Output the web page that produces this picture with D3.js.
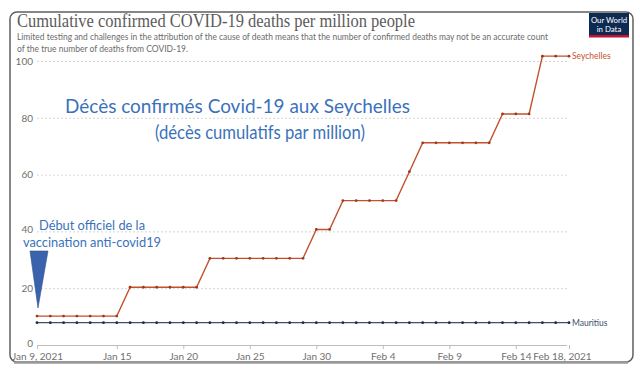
<!DOCTYPE html>
<html>
<head>
<meta charset="utf-8">
<script src="https://cdn.jsdelivr.net/npm/d3@7"></script>
<style>
  body { margin: 0; background: #fff; }
  svg { display: block; }
</style>
</head>
<body>
<svg width="640" height="369"></svg>
<script>
// data (deaths per million, one point per day)
let dates = d3.timeDays(new Date(2021, 0, 9), new Date(2021, 1, 19));
let seychelles = [
  10.17, 10.17, 10.17, 10.17, 10.17, 10.17, 10.17,
  20.34, 20.34, 20.34, 20.34, 20.34, 20.34,
  30.51, 30.51, 30.51, 30.51, 30.51, 30.51, 30.51, 30.51,
  40.68, 40.68,
  50.85, 50.85, 50.85, 50.85, 50.85,
  61.02,
  71.19, 71.19, 71.19, 71.19, 71.19, 71.19,
  81.36, 81.36, 81.36,
  101.7, 101.7, 101.7
];
let mauritius = [
  7.87, 7.87, 7.87, 7.87, 7.87, 7.87, 7.87, 7.87, 7.87, 7.87,
  7.87, 7.87, 7.87, 7.87, 7.87, 7.87, 7.87, 7.87, 7.87, 7.87,
  7.87, 7.87, 7.87, 7.87, 7.87, 7.87, 7.87, 7.87, 7.87, 7.87,
  7.87, 7.87, 7.87, 7.87, 7.87, 7.87, 7.87, 7.87, 7.87, 7.87, 7.87
];
let xTicks = [new Date(2021,0,9), new Date(2021,0,15), new Date(2021,0,20), new Date(2021,0,25),
  new Date(2021,0,30), new Date(2021,1,4), new Date(2021,1,9), new Date(2021,1,14), new Date(2021,1,18)];
let xTickLabels = ['Jan 9, 2021', 'Jan 15', 'Jan 20', 'Jan 25', 'Jan 30', 'Feb 4', 'Feb 9', 'Feb 14', 'Feb 18, 2021'];
let yTicks = [0, 20, 40, 60, 80, 100];

let svg = d3.select('svg');
let sans = 'Lato, "Open Sans", sans-serif';

// screenshot frame
svg.append('rect')
   .attr('x', 10).attr('y', 12).attr('width', 623).attr('height', 350)
   .attr('rx', 7)
   .attr('fill', '#fff').attr('stroke', '#5f5f5f').attr('stroke-width', 1.5);
svg.append('line')
   .attr('x1', 14).attr('x2', 628).attr('y1', 362.5).attr('y2', 362.5)
   .attr('stroke', '#9a9a9a').attr('stroke-width', 2.5);

// header
svg.append('text')
   .attr('x', 17).attr('y', 27)
   .attr('font-family', '"Liberation Serif", "DejaVu Serif", serif')
   .attr('font-size', 18.5).attr('fill', '#5b5b5b')
   .attr('textLength', 398).attr('lengthAdjust', 'spacingAndGlyphs')
   .text('Cumulative confirmed COVID-19 deaths per million people');
svg.append('text')
   .attr('x', 17).attr('y', 40)
   .attr('font-family', sans).attr('font-size', 9.3).attr('fill', '#6b6b6b')
   .attr('textLength', 531).attr('lengthAdjust', 'spacingAndGlyphs')
   .text('Limited testing and challenges in the attribution of the cause of death means that the number of confirmed deaths may not be an accurate count');
svg.append('text')
   .attr('x', 17).attr('y', 51.5)
   .attr('font-family', sans).attr('font-size', 9.3).attr('fill', '#6b6b6b')
   .attr('textLength', 171).attr('lengthAdjust', 'spacingAndGlyphs')
   .text('of the true number of deaths from COVID-19.');

// logo
let logo = svg.append('g').attr('transform', 'translate(589,13)');
logo.append('rect').attr('width', 40).attr('height', 24).attr('fill', '#0d2a52');
logo.append('rect').attr('y', 22).attr('width', 40).attr('height', 2.5).attr('fill', '#c8102e');
logo.append('text').attr('x', 20).attr('y', 10).attr('text-anchor', 'middle')
    .attr('font-family', sans).attr('font-size', 7.8).attr('fill', '#fff').text('Our World');
logo.append('text').attr('x', 20).attr('y', 19).attr('text-anchor', 'middle')
    .attr('font-family', sans).attr('font-size', 7.8).attr('fill', '#fff').text('in Data');

// scales
let x = d3.scaleTime()
          .domain([dates[0], dates[dates.length - 1]])
          .range([37, 569]);
let y = d3.scaleLinear()
          .domain([0, 100])
          .range([345, 61]);

// grid + y labels
let yAxis = svg.append('g')
   .attr('transform', 'translate(37,0)')
   .call(d3.axisLeft(y).tickValues(yTicks).tickSize(-530).tickPadding(4));
yAxis.select('.domain').remove();
yAxis.selectAll('.tick line')
     .attr('stroke', function(d) { return d === 0 ? '#bdbdbd' : '#d5d5d5'; })
     .attr('stroke-dasharray', function(d) { return d === 0 ? null : '2,2'; });
yAxis.selectAll('.tick text')
     .attr('font-family', sans).attr('font-size', 10).attr('fill', '#707070');
// nudge 0 and 40 a touch so they sit clear of neighbouring texts
yAxis.selectAll('.tick text')
     .filter(function(d) { return d === 0; })
     .attr('dy', '0.1em');
yAxis.selectAll('.tick text')
     .filter(function(d) { return d === 40; })
     .attr('dy', '0.15em');

// x axis
let xAxis = svg.append('g')
   .attr('transform', 'translate(0,345)')
   .call(d3.axisBottom(x).tickValues(xTicks)
           .tickFormat(function(d, i) { return xTickLabels[i]; })
           .tickSize(4).tickPadding(4));
xAxis.select('.domain').remove();
xAxis.selectAll('.tick line').attr('stroke', '#bdbdbd');
xAxis.selectAll('.tick text')
     .attr('font-family', sans).attr('font-size', 10).attr('fill', '#707070');
xAxis.selectAll('.tick text')
     .filter(function(d, i) { return i === xTicks.length - 1; })
     .attr('dx', -7);

// lines
let series = [
  { name: 'Seychelles', values: seychelles, color: '#c4512e', dot: '#9a3a1e' },
  { name: 'Mauritius', values: mauritius, color: '#3d4f6c', dot: '#1f2b3f' }
];
let line = d3.line()
             .x(function(d, i) { return x(dates[i]); })
             .y(function(d) { return y(d); });

series.forEach(function(s) {
  svg.append('path')
     .attr('d', line(s.values))
     .attr('fill', 'none')
     .attr('stroke', s.color)
     .attr('stroke-width', 1.4);
  svg.selectAll(null)
     .data(s.values)
     .enter()
     .append('circle')
     .attr('cx', function(d, i) { return x(dates[i]); })
     .attr('cy', function(d) { return y(d); })
     .attr('r', 1.4)
     .attr('fill', s.dot);
  svg.append('text')
     .attr('x', x(dates[dates.length - 1]) + 3)
     .attr('y', y(s.values[s.values.length - 1]) + 3)
     .attr('font-family', sans).attr('font-size', 8.5)
     .attr('fill', s.color)
     .text(s.name);
});

// annotations
let blue = '#3a72ba';
svg.append('text')
   .attr('x', 65).attr('y', 113)
   .attr('font-family', sans).attr('font-size', 19).attr('fill', blue)
   .attr('textLength', 345).attr('lengthAdjust', 'spacingAndGlyphs')
   .text('Décès confirmés Covid-19 aux Seychelles');
svg.append('text')
   .attr('x', 155).attr('y', 139)
   .attr('font-family', sans).attr('font-size', 19).attr('fill', blue)
   .attr('textLength', 210).attr('lengthAdjust', 'spacingAndGlyphs')
   .text('(décès cumulatifs par million)');
svg.append('text')
   .attr('x', 39).attr('y', 229.5)
   .attr('font-family', sans).attr('font-size', 13).attr('fill', blue)
   .attr('textLength', 106).attr('lengthAdjust', 'spacingAndGlyphs')
   .text('Début officiel de la');
svg.append('text')
   .attr('x', 23).attr('y', 247)
   .attr('font-family', sans).attr('font-size', 13).attr('fill', blue)
   .attr('textLength', 138).attr('lengthAdjust', 'spacingAndGlyphs')
   .text('vaccination anti-covid19');
svg.append('path')
   .attr('d', 'M30,251 L48,251 L38,308 Z')
   .attr('fill', '#3b63ad').attr('stroke', '#2f528f').attr('stroke-width', 0.6);
</script>
</body>
</html>
